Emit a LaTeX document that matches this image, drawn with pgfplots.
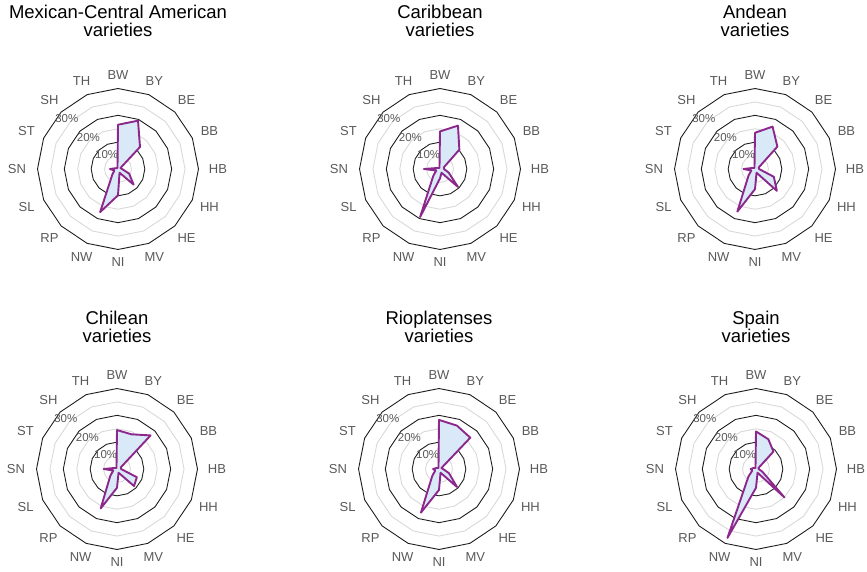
\documentclass[border=0pt]{standalone}
\usepackage{pgfplots}
\pgfplotsset{compat=1.18}
\usepackage{pgfplotstable}
\usepgfplotslibrary{polar}
\usepackage{fontspec}
\setmainfont{Liberation Sans}
\definecolor{gridD}{RGB}{30,30,30}
\definecolor{gridL}{RGB}{217,217,217}
\definecolor{lineP}{RGB}{140,40,140}
\definecolor{fillB}{RGB}{218,233,248}
\definecolor{lab}{RGB}{89,89,89}

\pgfplotstableread{
cat ang mca car and chi rio spa
BW 90 16.5 14.0 13.5 14.5 18.3 14.0
BY 67.5 19.5 17.5 17.1 14.0 17.5 12.0
BE 45 11.6 10.2 11.8 17.7 16.5 9.2
BB 22.5 1.0 1.5 1.5 1.5 1.0 1.0
HB 0 1.5 1.5 1.5 1.5 1.5 1.0
HH -22.5 4.5 3.5 7.6 8.0 4.0 2.5
HE -45 8.2 9.5 11.5 9.0 9.5 15.0
MV -67.5 1.5 1.5 1.5 1.5 1.5 1.5
NI -90 9.8 3.5 7.5 7.0 7.8 7.0
NW -112.5 17.4 19.4 17.2 15.9 17.6 27.8
RP -135 3.0 3.5 3.4 3.5 3.5 4.0
SL -157.5 1.5 1.5 1.5 1.5 1.5 1.5
SN -180 3.0 6.0 4.3 5.0 2.2 2.0
ST -202.5 0.8 1.0 1.0 1.0 1.0 1.0
SH -225 0.5 0.5 0.5 0.5 0.5 0.5
TH -247.5 0.5 0.5 0.5 0.5 0.5 0.5
}\radardata

\newcommand\ring[2]{\addplot[data cs=polar,#2,mark=none] coordinates {(0,#1)(22.5,#1)(45,#1)(67.5,#1)(90,#1)(112.5,#1)(135,#1)(157.5,#1)(180,#1)(202.5,#1)(225,#1)(247.5,#1)(270,#1)(292.5,#1)(315,#1)(337.5,#1)(360,#1)};}

\newcommand\radar[5]{%
\begin{axis}[at={(#1pt,#2pt)}, anchor=origin, x=2.683pt, y=2.683pt,
  xmin=-30,xmax=30,ymin=-30,ymax=30, hide axis, clip=false]
\ring{5}{gridL, line width=0.9pt}
\ring{15}{gridL, line width=0.9pt}
\ring{25}{gridL, line width=0.9pt}
\ring{10}{gridD, line width=0.9pt}
\ring{20}{gridD, line width=0.9pt}
\ring{30}{gridD, line width=0.9pt}
\addplot[data cs=polar, mark=none, draw=lineP, fill=fillB, line width=1.9pt, line join=round]
  table[x=ang,y=#3]{\radardata} -- cycle;
\end{axis}
\foreach \a/\t/\r in {90/BW/94,67.5/BY/95,45/BE/97,22.5/BB/99,0/HB/100,-22.5/HH/99,-45/HE/97,-67.5/MV/95,-90/NI/93,-112.5/NW/95,-135/RP/97,-157.5/SL/99,180/SN/101,157.5/ST/99,135/SH/97,112.5/TH/95}
  \node[text=lab, font=\fontsize{13}{15}\selectfont, inner sep=0pt] at ([shift={(\a:\r pt)}]#1pt,#2pt) {\t};
\node[text=lab, font=\fontsize{11.5}{13}\selectfont, inner sep=0pt] at ([shift={(129:18pt)}]#1pt,#2pt) {10\%};
\node[text=lab, font=\fontsize{11.5}{13}\selectfont, inner sep=0pt] at ([shift={(133:43.4pt)}]#1pt,#2pt) {20\%};
\node[text=lab, font=\fontsize{11.5}{13}\selectfont, inner sep=0pt] at ([shift={(135.7:71.6pt)}]#1pt,#2pt) {30\%};
\node[align=center, font=\fontsize{18.5}{18}\selectfont, inner sep=0pt] at (#1pt,#5pt) {#4};
}

\begin{document}
\begin{tikzpicture}
\path[use as bounding box] (0,0) rectangle (867pt,571pt);
\radar{118}{402}{mca}{Mexican-Central American\\varieties}{550}
\radar{440}{402}{car}{Caribbean\\varieties}{550}
\radar{755}{402}{and}{Andean\\varieties}{550}
\radar{117}{102}{chi}{Chilean\\varieties}{244.5}
\radar{439}{102}{rio}{Rioplatenses\\varieties}{244.5}
\radar{756}{102}{spa}{Spain\\varieties}{244.5}
\end{tikzpicture}
\end{document}
